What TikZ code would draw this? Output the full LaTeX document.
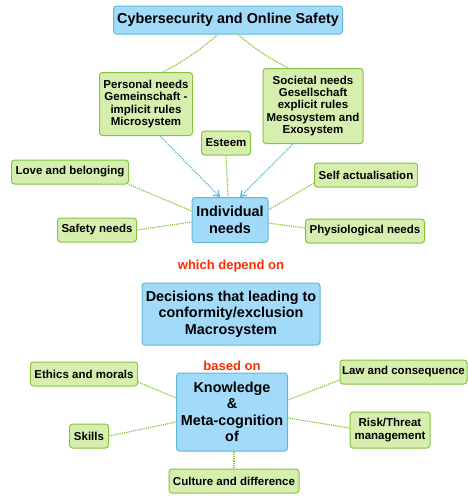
\documentclass[tikz,border=0pt]{standalone}
\usepackage{fontspec}
\setmainfont{Liberation Sans}
\usetikzlibrary{arrows.meta}
\definecolor{skyfill}{HTML}{A2DBFA}
\definecolor{skyline}{HTML}{62B6D6}
\definecolor{leaffill}{HTML}{D6EFAE}
\definecolor{leafline}{HTML}{88C440}
\definecolor{linkred}{HTML}{FF2A00}

\begin{document}
\begin{tikzpicture}[x=1pt,y=-1pt,
		mainbox/.style={rectangle,rounded corners=3pt,draw=skyline,fill=skyfill,line width=1pt,
			align=center,inner sep=0pt,font=\fontsize{14.4}{16.5}\selectfont\bfseries},
		leaf/.style={rectangle,rounded corners=3pt,draw=leafline,fill=leaffill,line width=1pt,
			align=center,inner sep=0pt,minimum height=24pt,font=\fontsize{11.5}{12.4}\selectfont\bfseries},
		link/.style={draw=leafline,densely dotted,line width=1.2pt},
		feed/.style={draw=skyline,densely dotted,line width=1.2pt,-{Straight Barb[open,length=5pt,width=7pt]}},
		note/.style={text=linkred,font=\fontsize{13}{14}\selectfont\bfseries}]
		\useasboundingbox (0,0) rectangle (468,496);
		
		% top of the map
		\node[mainbox,minimum width=229pt,minimum height=28pt] (cyber) at (228,20) {Cybersecurity and Online Safety};
		\node[leaf,minimum width=93pt,minimum height=63pt] (personal) at (146,104)
			{Personal needs\\Gemeinschaft -\\implicit rules\\Microsystem};
		\node[leaf,minimum width=100pt,minimum height=75pt] (societal) at (313,106)
			{Societal needs\\Gesellschaft\\explicit rules\\Mesosystem and\\Exosystem};
		
		% individual needs
		\node[mainbox,minimum width=76pt,minimum height=45pt,font=\fontsize{14.4}{17}\selectfont\bfseries]
			(indiv) at (230,220) {Individual\\needs};
		\node[leaf,minimum width=49pt] (esteem)  at (226,143) {Esteem};
		\node[leaf,minimum width=117pt] (love)   at (70,172)  {Love and belonging};
		\node[leaf,minimum width=103pt] (selfact) at (366,175) {Self actualisation};
		\node[leaf,minimum width=79pt] (safety)  at (97,230)  {Safety needs};
		\node[leaf,minimum width=119pt] (physio) at (365,231) {Physiological needs};
		
		\node[note] (depend) at (231,266) {which depend on};
		\node[mainbox,minimum width=178pt,minimum height=62pt] (decide) at (231,314)
			{Decisions that leading to\\conformity/exclusion\\Macrosystem};
		
		% knowledge
		\node[note] (based) at (232,366) {based on};
		\node[mainbox,minimum width=111pt,minimum height=78pt] (know) at (232,412)
			{Knowledge\\\&\\Meta-cognition\\of};
		\node[leaf,minimum width=107pt] (ethics)  at (84,374)  {Ethics and morals};
		\node[leaf,minimum width=127pt] (law)     at (403.5,372) {Law and consequence};
		\node[leaf,minimum width=39pt]  (skills)  at (89,436)  {Skills};
		\node[leaf,minimum width=80pt,minimum height=36pt] (risk) at (390,430) {Risk/Threat\\management};
		\node[leaf,minimum width=130pt] (culture) at (234,481) {Culture and difference};
		
		\path[link]
		([xshift=-10pt]cyber.south) edge[bend left=6] ([xshift=17pt]personal.north)
		([xshift=10pt]cyber.south) edge[bend right=6] ([xshift=-25pt]societal.north)
		(esteem.south) edge ([xshift=-2pt]indiv.north)
		(love.south east) edge ([yshift=9pt]indiv.west)
		(safety.east) edge ([yshift=-2pt]indiv.west)
		([yshift=-8pt]selfact.west) edge ([yshift=10pt]indiv.east)
		([yshift=3pt]physio.west) edge ([yshift=-3pt]indiv.east)
		([yshift=-8pt]ethics.east) edge ([yshift=14pt]know.west)
		(skills.east) edge ([yshift=-10pt]know.west)
		([yshift=-8pt]law.west) edge ([yshift=12pt]know.east)
		([yshift=2pt]risk.west) edge ([yshift=-6pt]know.east)
		([xshift=2pt]know.south) edge (culture.north);
		
		\draw[feed] ([xshift=14pt]personal.south) -- ([xshift=-10pt]indiv.north);
		\draw[feed] ([xshift=-20pt]societal.south) -- ([xshift=10pt]indiv.north);
\end{tikzpicture}
\end{document}
